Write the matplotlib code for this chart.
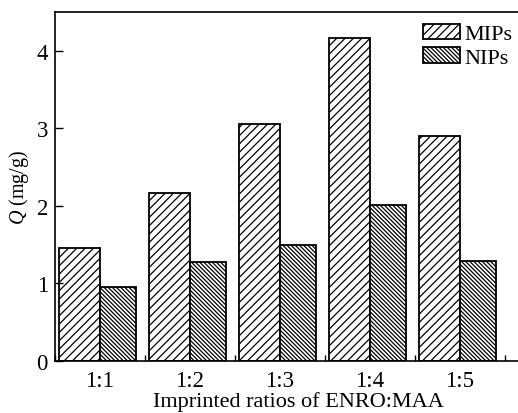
import matplotlib
matplotlib.use("Agg")
import matplotlib.pyplot as plt
import numpy as np

# data
ratios = ["1:1", "1:2", "1:3", "1:4", "1:5"]
mips = [1.45, 2.16, 3.06, 4.17, 2.90]
nips = [0.95, 1.28, 1.50, 2.01, 1.29]

plt.rcParams["font.family"] = ["Liberation Serif", "DejaVu Serif"]
plt.rcParams["mathtext.fontset"] = "custom"
plt.rcParams["mathtext.it"] = "Liberation Serif:italic"
plt.rcParams["mathtext.rm"] = "Liberation Serif"
plt.rcParams["hatch.linewidth"] = 0.9

fig = plt.figure(figsize=(5.18, 4.14), dpi=100)
ax = fig.add_axes([0.106, 0.1263, 0.894, 0.8416])

x = np.arange(len(ratios))
mip_w = 0.456
nip_w = 0.40
ax.bar(x - mip_w, mips, width=mip_w, align="edge", color="white",
       edgecolor="black", linewidth=1.3, hatch="////", label="MIPs")
ax.bar(x, nips, width=nip_w, align="edge", color="white",
       edgecolor="black", linewidth=1.3, hatch="\\" * 8, label="NIPs")

ax.set_xlim(-0.5, 4.644)
ax.set_ylim(0, 4.5)
ax.set_xticks(x)
ax.set_xticklabels(ratios)
ax.set_xticks(np.arange(-0.5, 5.0, 1.0), minor=True)
ax.set_yticks([0, 1, 2, 3, 4])
ax.tick_params(axis="x", which="major", length=0, labelsize=16.5, pad=7)
ax.tick_params(axis="x", which="minor", direction="in", length=4, width=1)
ax.tick_params(axis="y", direction="in", length=6, width=1, labelsize=16.5, pad=5)

for side in ("left", "bottom", "top"):
    ax.spines[side].set_linewidth(1.2)
ax.spines["right"].set_visible(False)

# the reference label sits right at the bottom edge
ax.set_xlabel("Imprinted ratios of ENRO:MAA", fontsize=16, va="baseline")
ax.xaxis.set_label_coords(0.525, -0.131)
ax.set_ylabel("$\\mathit{Q}$ (mg/g)", fontsize=14.5, labelpad=4)

ax.legend(loc="upper right", bbox_to_anchor=(1.0, 0.983), frameon=False,
          fontsize=16, handlelength=1.66, handleheight=0.68,
          handletextpad=0.2, labelspacing=0.14, borderaxespad=0.0,
          borderpad=0.25)

fig.savefig("out.png", dpi=100)
